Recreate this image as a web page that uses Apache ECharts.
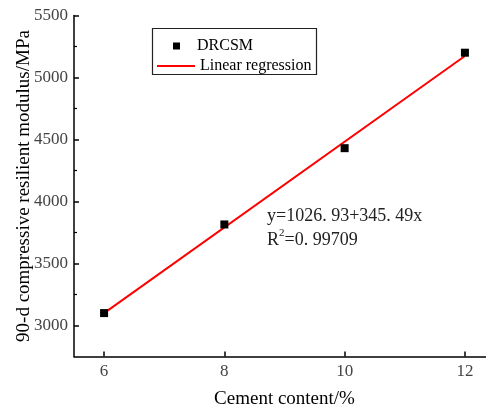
<!DOCTYPE html>
<html lang="en">
<head>
    <meta charset="UTF-8">
    <title>Cement content vs resilient modulus</title>
    <script src="https://cdn.jsdelivr.net/npm/echarts@6/dist/echarts.min.js"></script>
</head>
<body style="margin:0">
    <div id="main" style="width: 486px;height:408px;"></div>
    <script>
        // measured points
        const cement = [6, 8, 10, 12];
        const modulus = [3100, 3815, 4430, 5200];
        // fitted line ends
        const fitX = [6, 12];
        const fitY = [3100, 5173];
        const xLabels = [6, 8, 10, 12];
        const yLabels = [3000, 3500, 4000, 4500, 5000, 5500];
        const yMinor = [3250, 3750, 4250, 4750, 5250];

        const serif = '"Liberation Serif", "DejaVu Serif", serif';
        var myChart = echarts.init(document.getElementById('main'));

        var option = {
            animation: false,
            grid: { left: 74, top: 15.5, right: -9, bottom: 51.5, outerBoundsMode: 'none', containLabel: false },
            xAxis: {
                type: 'value',
                min: 5.5,
                max: 12.5,
                name: 'Cement content/%',
                nameLocation: 'middle',
                nameGap: 33,
                nameMoveOverlap: false,
                nameTextStyle: { fontFamily: serif, fontSize: 19, color: '#000' },
                axisLine: { lineStyle: { color: '#000', width: 1.5 } },
                axisTick: { inside: true, length: 5, customValues: xLabels, lineStyle: { color: '#000', width: 1.5 } },
                axisLabel: { customValues: xLabels, fontFamily: serif, fontSize: 17, color: '#444', margin: 7 },
                splitLine: { show: false }
            },
            yAxis: [{
                type: 'value',
                min: 2750,
                max: 5500,
                name: '90-d compressive resilient modulus/MPa',
                nameLocation: 'middle',
                nameGap: 40,
                nameMoveOverlap: false,
                nameTextStyle: { fontFamily: serif, fontSize: 19, color: '#000' },
                axisLine: { show: true, lineStyle: { color: '#000', width: 1.5 } },
                axisTick: { inside: true, length: 5, customValues: yLabels, lineStyle: { color: '#000', width: 1.5 } },
                axisLabel: { customValues: yLabels, formatter: v => String(v), fontFamily: serif, fontSize: 17, color: '#444', margin: 6 },
                splitLine: { show: false }
            }, {
                type: 'value',
                position: 'left',
                min: 2750,
                max: 5500,
                axisLine: { show: false },
                axisTick: { inside: true, length: 3, customValues: yMinor, lineStyle: { color: '#000', width: 1.2 } },
                axisLabel: { show: false },
                splitLine: { show: false }
            }],
            legend: [{
                data: [{ name: 'DRCSM', icon: 'rect' }],
                left: 168,
                top: 33,
                itemWidth: 7,
                itemHeight: 7,
                textStyle: { fontFamily: serif, fontSize: 16, color: '#000', padding: [0, 0, 0, 12] }
            }, {
                data: [{ name: 'Linear regression', icon: 'rect' }],
                left: 152,
                top: 53,
                itemWidth: 38,
                itemHeight: 2,
                textStyle: { fontFamily: serif, fontSize: 16, color: '#000' }
            }],
            graphic: [{
                type: 'rect',
                left: 150,
                top: 26,
                shape: { width: 164, height: 46 },
                style: { fill: 'none', stroke: '#222', lineWidth: 1.2 }
            }, {
                type: 'text',
                left: 267,
                top: 204,
                style: {
                    text: 'y=1026. 93+345. 49x\n{n|R}{s|2}{n|=0. 99709}',
                    font: '18px ' + serif,
                    fill: '#222',
                    lineHeight: 24,
                    rich: {
                        n: { fontFamily: serif, fontSize: 18, fill: '#222' },
                        s: { fontFamily: serif, fontSize: 11, fill: '#222', verticalAlign: 'top', padding: [0, 0, 8, 0] }
                    }
                }
            }],
            series: [{
                name: 'DRCSM',
                type: 'scatter',
                symbol: 'rect',
                symbolSize: 8,
                itemStyle: { color: '#000', opacity: 1 },
                data: cement.map((x, i) => [x, modulus[i]]),
                z: 3
            }, {
                name: 'Linear regression',
                type: 'line',
                showSymbol: false,
                symbol: 'none',
                lineStyle: { color: '#f00', width: 2 },
                itemStyle: { color: '#f00' },
                data: fitX.map((x, i) => [x, fitY[i]]),
                z: 2
            }]
        };

        myChart.setOption(option);
    </script>
</body>
</html>
